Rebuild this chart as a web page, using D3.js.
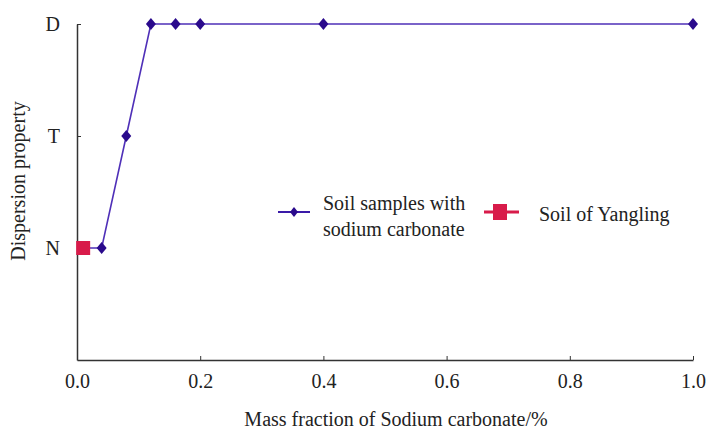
<!DOCTYPE html>
<html>
<head>
  <meta charset="utf-8">
  <title>Dispersion property</title>
  <style>
    body { margin: 0; background: #fff; }
    svg text { font-family: "Liberation Serif", "DejaVu Serif", serif; fill: #222; }
  </style>
</head>
<body>
  <svg id="chart"></svg>
  <script src="https://cdnjs.cloudflare.com/ajax/libs/d3/7.8.5/d3.min.js"></script>
  <script>
    // data
    const levels = ["", "N", "T", "D"];
    const xTicks = [0.0, 0.2, 0.4, 0.6, 0.8, 1.0];
    const sampleX = [0.01, 0.04, 0.08, 0.12, 0.16, 0.2, 0.4, 1.0];
    const sampleY = ["N", "N", "T", "D", "D", "D", "D", "D"];
    const markerX = [0.04, 0.08, 0.12, 0.16, 0.2, 0.4, 1.0];
    const markerY = ["N", "T", "D", "D", "D", "D", "D"];
    const yanglingX = [0.01];
    const yanglingY = ["N"];
    const seriesNames = ["Soil samples with", "sodium carbonate", "Soil of Yangling"];

    const width = 707, height = 432;
    const margin = { left: 77, right: 14, top: 24, bottom: 72 };
    const fs = 20;

    const svg = d3.select("#chart").attr("width", width).attr("height", height);

    const x = d3.scaleLinear().domain([0, 1]).range([margin.left, width - margin.right]);
    const y = d3.scalePoint().domain(levels).range([height - margin.bottom, margin.top]);

    // x axis, ticks pointing inward
    const gx = svg.append("g")
      .attr("transform", `translate(0,${height - margin.bottom})`)
      .call(d3.axisBottom(x).tickValues(xTicks).tickFormat(d3.format(".1f"))
        .tickSizeInner(-4).tickSizeOuter(0).tickPadding(14));
    gx.select(".domain").attr("stroke", "#333").attr("stroke-width", 1.5);
    gx.selectAll(".tick line").attr("stroke", "#333");
    gx.selectAll("text").attr("font-size", fs).attr("fill", "#222");

    // y axis
    const gy = svg.append("g")
      .attr("transform", `translate(${margin.left},0)`)
      .call(d3.axisLeft(y).tickValues(["N", "T", "D"]).tickSizeInner(-4).tickSizeOuter(0).tickPadding(17));
    gy.select(".domain").attr("stroke", "#333").attr("stroke-width", 1.5);
    gy.selectAll(".tick line").attr("stroke", "#333");
    gy.selectAll("text").attr("font-size", fs).attr("fill", "#222");

    // axis titles
    svg.append("text")
      .attr("x", 396)
      .attr("y", 426)
      .attr("text-anchor", "middle")
      .attr("font-size", fs)
      .text("Mass fraction of Sodium carbonate/%");

    svg.append("text")
      .attr("transform", `translate(25,181) rotate(-90)`)
      .attr("text-anchor", "middle")
      .attr("font-size", fs)
      .text("Dispersion property");

    const line = d3.line().x(d => x(d[0])).y(d => y(d[1]));
    const pts = sampleX.map((v, i) => [v, sampleY[i]]);

    svg.append("path")
      .datum(pts)
      .attr("fill", "none")
      .attr("stroke", "#4f30b8")
      .attr("stroke-width", 1.6)
      .attr("d", line);

    const diamond = "M0,-6L5,0L0,6L-5,0Z";

    svg.selectAll(".dm")
      .data(markerX.map((v, i) => [v, markerY[i]]))
      .join("path")
      .attr("class", "dm")
      .attr("transform", d => `translate(${x(d[0])},${y(d[1])})`)
      .attr("d", diamond)
      .attr("fill", "#2a0a8c");

    svg.selectAll(".sq")
      .data(yanglingX.map((v, i) => [v, yanglingY[i]]))
      .join("rect")
      .attr("class", "sq")
      .attr("x", d => x(d[0]) - 7)
      .attr("y", d => y(d[1]) - 7)
      .attr("width", 14)
      .attr("height", 14)
      .attr("fill", "#d81b4a");

    // legend
    const lg = svg.append("g");
    lg.append("line").attr("x1", 278).attr("x2", 310).attr("y1", 212).attr("y2", 212)
      .attr("stroke", "#3a1aa8").attr("stroke-width", 2);
    lg.append("path").attr("transform", "translate(294,212)").attr("d", "M0,-5L4,0L0,5L-4,0Z").attr("fill", "#2a0a8c");
    lg.append("text").attr("x", 323).attr("y", 210).attr("font-size", fs).text(seriesNames[0]);
    lg.append("text").attr("x", 323).attr("y", 236).attr("font-size", fs).text(seriesNames[1]);

    lg.append("line").attr("x1", 484).attr("x2", 519).attr("y1", 212).attr("y2", 212)
      .attr("stroke", "#d81b4a").attr("stroke-width", 3);
    lg.append("rect").attr("x", 493).attr("y", 204).attr("width", 14).attr("height", 16).attr("fill", "#d81b4a");
    lg.append("text").attr("x", 539).attr("y", 221).attr("font-size", fs).text(seriesNames[2]);
  </script>
</body>
</html>
